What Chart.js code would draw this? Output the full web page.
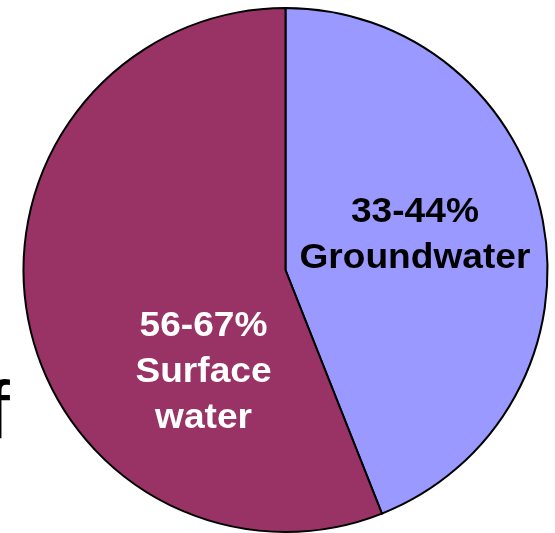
<!DOCTYPE html>
<html>
<head>
<meta charset="utf-8">
<script src="https://cdn.jsdelivr.net/npm/chart.js@4.4.1/dist/chart.umd.min.js"></script>
<style>
  html, body { margin: 0; padding: 0; background: #ffffff; }
  #wrap { position: relative; width: 555px; height: 533px; overflow: hidden; }
  canvas { display: block; }
</style>
</head>
<body>
<div id="wrap"><canvas id="pie" width="555" height="533"></canvas></div>
<script>
// Sources of freshwater withdrawals
const categories = ['Groundwater', 'Surface water'];
const shares = [44, 56];
const rangeLabels = ['33-44%', '56-67%'];
const labelLines = [['33-44%', 'Groundwater'], ['56-67%', 'Surface', 'water']];
const sliceColors = ['#9999FF', '#993366'];
const textColors = ['#000000', '#FFFFFF'];

// Label anchors, as fractions of the radius from the pie centre
const labelAnchors = [{ dx: 0.494, dy: -0.133 }, { dx: -0.313, dy: 0.392 }];

const sliceLabels = {
  id: 'sliceLabels',
  afterDatasetsDraw(chart) {
    const ctx = chart.ctx;
    const arcs = chart.getDatasetMeta(0).data;
    ctx.save();
    ctx.font = 'bold 35px "Liberation Sans", Arial, sans-serif';
    ctx.textAlign = 'center';
    ctx.textBaseline = 'middle';
    const lineH = 46;
    const stretch = 1.06;
    arcs.forEach((arc, i) => {
      const r = arc.outerRadius;
      const cx = arc.x + labelAnchors[i].dx * r;
      const cy = arc.y + labelAnchors[i].dy * r;
      const lines = labelLines[i];
      ctx.fillStyle = textColors[i];
      lines.forEach((t, k) => {
        const y = cy + (k - (lines.length - 1) / 2) * lineH;
        ctx.save();
        ctx.translate(cx, y);
        ctx.scale(stretch, 1);
        ctx.fillText(t, 0, 0);
        ctx.restore();
      });
    });
    // fragment of slide text at the left edge
    ctx.fillStyle = '#000000';
    ctx.font = '82px "Liberation Sans", Arial, sans-serif';
    ctx.textAlign = 'left';
    ctx.textBaseline = 'alphabetic';
    ctx.fillText('f', -13, 438);
    ctx.restore();
  }
};

new Chart(document.getElementById('pie'), {
  type: 'pie',
  data: {
    labels: categories,
    datasets: [{
      data: shares,
      backgroundColor: sliceColors,
      borderColor: '#000000',
      borderWidth: 2,
      borderJoinStyle: 'miter'
    }]
  },
  options: {
    responsive: false,
    animation: false,
    rotation: 0,
    layout: { padding: { left: 16, right: 0, top: 7, bottom: 0 } },
    plugins: {
      legend: { display: false },
      tooltip: { enabled: false }
    }
  },
  plugins: [sliceLabels]
});
</script>
</body>
</html>
